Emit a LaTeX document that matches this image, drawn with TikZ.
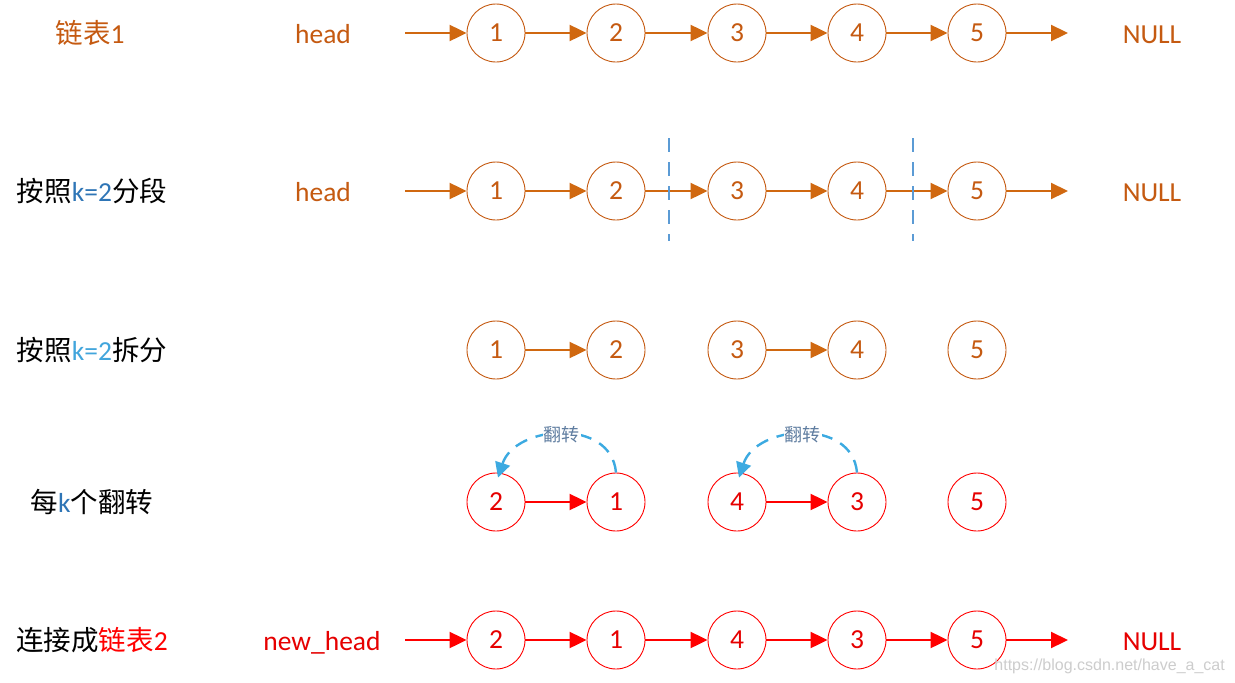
\documentclass[tikz,border=0pt]{standalone}
\usepackage{fontspec}
\setmainfont{Carlito}
\newfontfamily\cjk{Noto Sans CJK SC}
\newfontfamily\wmfont{Liberation Sans}
\usetikzlibrary{arrows.meta}
\definecolor{org}{RGB}{197,90,17}
\definecolor{orgline}{RGB}{208,104,16}
\definecolor{rd}{RGB}{255,0,0}
\definecolor{rdtxt}{RGB}{230,0,0}
\definecolor{dblue}{RGB}{46,117,182}
\definecolor{lblue}{RGB}{65,165,220}
\definecolor{cutblue}{RGB}{91,155,213}
\definecolor{flipblue}{RGB}{60,170,225}
\definecolor{fliptxt}{RGB}{95,125,160}
\definecolor{wmgray}{RGB}{205,205,205}
\begin{document}
\begin{tikzpicture}[x=1pt,y=-1pt,
  big/.style={font=\fontsize{27.5}{30}\selectfont},
  onode/.style={circle, draw=org, line width=0.9pt, minimum size=58pt, inner sep=0pt, text=org, big},
  rnode/.style={circle, draw=rd, line width=0.9pt, minimum size=58pt, inner sep=0pt, text=rdtxt, big},
  oarr/.style={draw=orgline, line width=2.2pt, -{Triangle[length=17pt,width=16pt]}},
  rarr/.style={draw=rd, line width=2.2pt, -{Triangle[length=17pt,width=16pt]}},
  lbl/.style={big, anchor=base, inner sep=0pt},
  cutline/.style={draw=cutblue, line width=2.2pt, dash pattern=on 14pt off 10pt},
  flipline/.style={draw=flipblue, line width=2.4pt, dash pattern=on 13pt off 9pt, -{Triangle[length=15pt,width=15pt]}},
  fliplbl/.style={fill=white, inner sep=1pt, text=fliptxt, font=\cjk\fontsize{18}{20}\selectfont}
]
\useasboundingbox[fill=white] (0,0) rectangle (1235,683);

% ---------- left labels ----------
\node[lbl, text=org] (L1) at (90,43) {{\cjk 链表}1};
\node[lbl] (L2) at (92,201) {{\cjk 按照}\textcolor{dblue}{k=2}{\cjk 分段}};
\node[lbl] (L3) at (92,360) {{\cjk 按照}\textcolor{lblue}{k=2}{\cjk 拆分}};
\node[lbl] (L4) at (92,512) {{\cjk 每}\textcolor{dblue}{k}{\cjk 个翻转}};
\node[lbl] (L5) at (92,650) {{\cjk 连接成}\textcolor{rd}{{\cjk 链表}2}};

% ---------- row 1 ----------
\node[lbl, text=org] (h1) at (323,43) {head};
\node[lbl, text=org] (n1) at (1152,43) {NULL};
\coordinate (h1s) at (405,33);
\coordinate (n1e) at (1068,33);
\node[onode] (a1) at (496,33) {1};
\node[onode] (a2) at (616,33) {2};
\node[onode] (a3) at (737,33) {3};
\node[onode] (a4) at (857,33) {4};
\node[onode] (a5) at (977,33) {5};
\draw[oarr] (h1s) -- (a1);
\draw[oarr] (a1) -- (a2);
\draw[oarr] (a2) -- (a3);
\draw[oarr] (a3) -- (a4);
\draw[oarr] (a4) -- (a5);
\draw[oarr] (a5) -- (n1e);

% ---------- row 2 ----------
\node[lbl, text=org] (h2) at (323,201) {head};
\node[lbl, text=org] (n2) at (1152,201) {NULL};
\coordinate (h2s) at (405,191);
\coordinate (n2e) at (1068,191);
\node[onode] (b1) at (496,191) {1};
\node[onode] (b2) at (616,191) {2};
\node[onode] (b3) at (737,191) {3};
\node[onode] (b4) at (857,191) {4};
\node[onode] (b5) at (977,191) {5};
\draw[oarr] (h2s) -- (b1);
\draw[oarr] (b1) -- (b2);
\draw[oarr] (b2) -- (b3);
\draw[oarr] (b3) -- (b4);
\draw[oarr] (b4) -- (b5);
\draw[oarr] (b5) -- (n2e);
\coordinate (c1t) at (669,138);
\coordinate (c1b) at (669,241);
\coordinate (c2t) at (913,138);
\coordinate (c2b) at (913,241);
\draw[cutline] (c1t) -- (c1b);
\draw[cutline] (c2t) -- (c2b);

% ---------- row 3 ----------
\node[onode] (s1) at (496,350) {1};
\node[onode] (s2) at (616,350) {2};
\node[onode] (s3) at (737,350) {3};
\node[onode] (s4) at (857,350) {4};
\node[onode] (s5) at (977,350) {5};
\draw[oarr] (s1) -- (s2);
\draw[oarr] (s3) -- (s4);

% ---------- row 4 ----------
\node[rnode] (r2) at (496,502) {2};
\node[rnode] (r1) at (616,502) {1};
\node[rnode] (r4) at (737,502) {4};
\node[rnode] (r3) at (857,502) {3};
\node[rnode] (r5) at (977,502) {5};
\draw[rarr] (r2) -- (r1);
\draw[rarr] (r4) -- (r3);
\draw[flipline] (r1.north) to[out=95,in=72,looseness=1.2] node[pos=0.5, fliplbl] {翻转} ([xshift=2pt,yshift=-5pt]r2.north);
\draw[flipline] (r3.north) to[out=95,in=72,looseness=1.2] node[pos=0.5, fliplbl] {翻转} ([xshift=2pt,yshift=-5pt]r4.north);

% ---------- row 5 ----------
\node[lbl, text=rdtxt] (h5) at (322,650) {new\_head};
\node[lbl, text=rdtxt] (n5) at (1152,650) {NULL};
\coordinate (h5s) at (405,640);
\coordinate (n5e) at (1068,640);
\node[rnode] (e2) at (496,640) {2};
\node[rnode] (e1) at (616,640) {1};
\node[rnode] (e4) at (737,640) {4};
\node[rnode] (e3) at (857,640) {3};
\node[rnode] (e5) at (977,640) {5};
\draw[rarr] (h5s) -- (e2);
\draw[rarr] (e2) -- (e1);
\draw[rarr] (e1) -- (e4);
\draw[rarr] (e4) -- (e3);
\draw[rarr] (e3) -- (e5);
\draw[rarr] (e5) -- (n5e);

% ---------- watermark ----------
\node[anchor=base east, inner sep=0pt, text=wmgray, font=\wmfont\fontsize{16}{18}\selectfont] (wm) at (1225,670) {https://blog.csdn.net/have\_a\_cat};
\end{tikzpicture}
\end{document}
